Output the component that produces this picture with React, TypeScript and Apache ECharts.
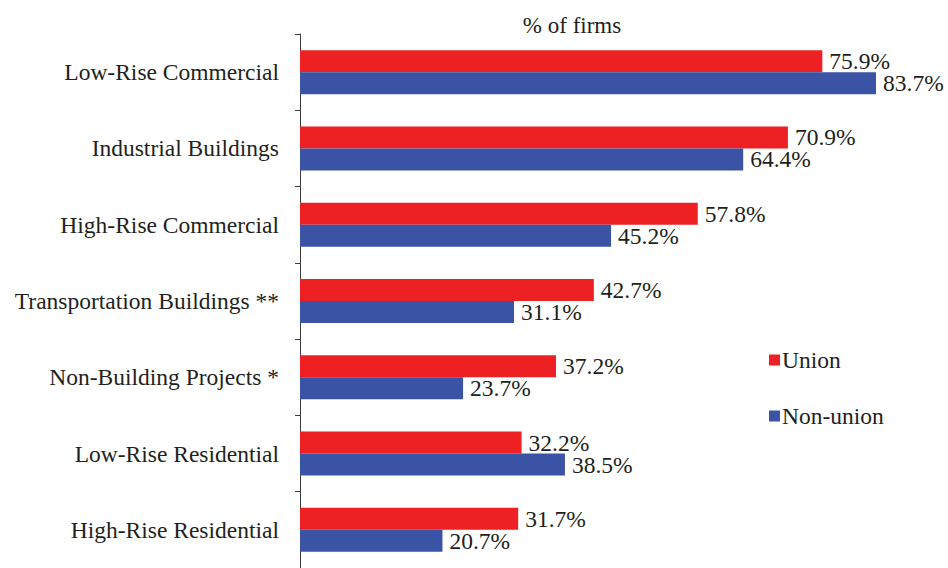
import React, { useEffect, useRef } from "react";
import * as echarts from "echarts";

const categories = [
  "Low-Rise Commercial",
  "Industrial Buildings",
  "High-Rise Commercial",
  "Transportation Buildings **",
  "Non-Building Projects *",
  "Low-Rise Residential",
  "High-Rise Residential",
];
const unionValues = [75.9, 70.9, 57.8, 42.7, 37.2, 32.2, 31.7];
const nonUnionValues = [83.7, 64.4, 45.2, 31.1, 23.7, 38.5, 20.7];

const FONT = "'Liberation Serif', 'Times New Roman', serif";
const FS = 23.5;

export default function App() {
  const ref = useRef<HTMLDivElement>(null);
  useEffect(() => {
    if (!ref.current) return;
    const chart = echarts.init(ref.current, undefined, { renderer: "svg" });
    const labelStyle = {
      show: true,
      position: "right" as const,
      distance: 7,
      formatter: (p: any) => p.value.toFixed(1) + "%",
      fontFamily: FONT,
      fontSize: FS,
      color: "#231f20",
    };
    chart.setOption({
      animation: false,
      textStyle: { fontFamily: FONT },
      title: {
        text: "% of firms",
        left: 567,
        top: 9,
        textAlign: "center",
        textStyle: { fontFamily: FONT, fontSize: 23, fontWeight: "normal", color: "#231f20" },
      },
      legend: {
        orient: "vertical",
        left: 764,
        top: 343,
        itemWidth: 11,
        itemHeight: 11,
        itemGap: 32,
        icon: "rect",
        textStyle: { fontFamily: FONT, fontSize: FS, color: "#231f20", padding: [0, 0, 0, -3] },
        data: ["Union", "Non-union"],
      },
      grid: { left: 300, right: 8, top: 34, bottom: -3, containLabel: false },
      xAxis: {
        type: "value",
        min: 0,
        max: 93,
        show: false,
      },
      yAxis: {
        type: "category",
        inverse: true,
        data: categories,
        axisLine: { show: true, lineStyle: { color: "#3d3d3d", width: 1 } },
        axisTick: { show: true, length: 5, lineStyle: { color: "#3d3d3d" } },
        axisLabel: { margin: 21, fontFamily: FONT, fontSize: FS, color: "#231f20" },
        splitLine: { show: false },
      },
      series: [
        {
          name: "Union",
          type: "bar",
          data: unionValues,
          itemStyle: { color: "#ed2024" },
          barWidth: 22,
          barGap: "0%",
          label: labelStyle,
        },
        {
          name: "Non-union",
          type: "bar",
          data: nonUnionValues,
          itemStyle: { color: "#3a53a4" },
          barWidth: 22,
          barGap: "0%",
          label: labelStyle,
        },
      ],
    });
    return () => chart.dispose();
  }, []);
  return <div ref={ref} style={{ width: 948, height: 568, position: "absolute", left: 0, top: 0 }} />;
}
